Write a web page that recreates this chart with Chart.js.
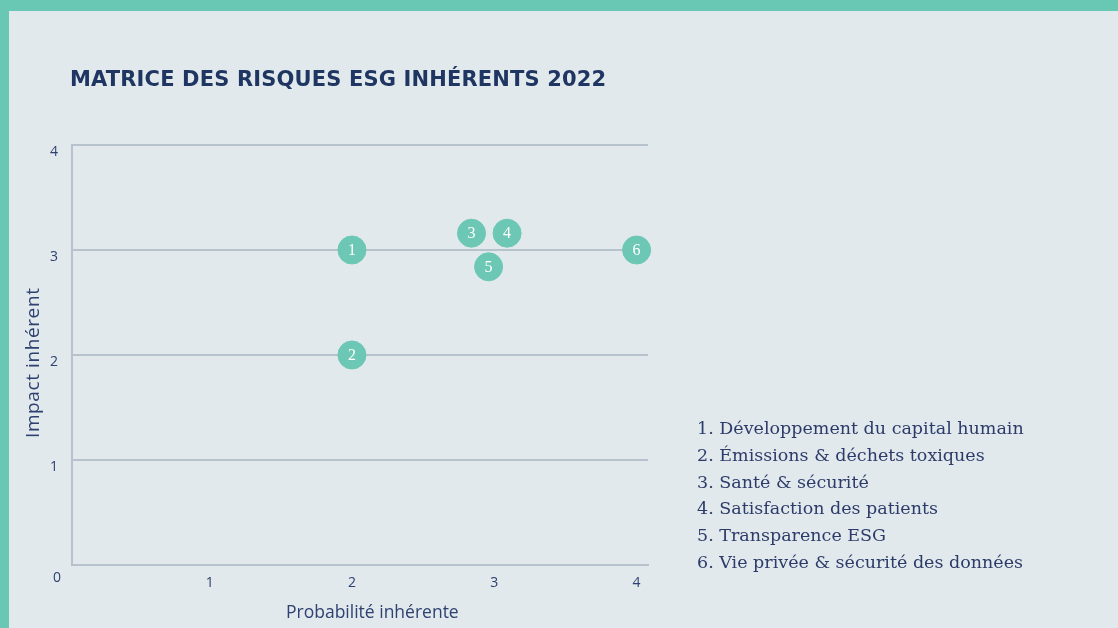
<!DOCTYPE html>
<html lang="fr">
<head>
<meta charset="utf-8">
<title>Matrice des risques ESG inhérents 2022</title>
<script src="https://cdn.jsdelivr.net/npm/chart.js@4"></script>
<style>
    html, body { margin: 0; padding: 0; }
    body {
        width: 1118px; height: 628px; overflow: hidden; position: relative;
        background: #e1e9ec;
        border-top: 11px solid #69c8b4;
        border-left: 9px solid #69c8b4;
        box-sizing: border-box;
    }
    #wrap { position: absolute; left: -9px; top: -11px; width: 1118px; height: 628px; }
    #title {
        position: absolute; left: 61px; top: 56px;
        font: 700 21px "DejaVu Sans", sans-serif; color: #1f3662;
        letter-spacing: 0.15px;
    }
    .axis { position: absolute; font: 400 17.5px "Open Sans", sans-serif; color: #2f4170; white-space: nowrap; }
    #xTitle { left: 277px; top: 588px; }
    #yTitle { left: -52px; top: 339px; transform: rotate(-90deg); transform-origin: center; width: 150px; text-align: center; font-size: 19px; letter-spacing: 0.6px; }
    #zero { position: absolute; left: 44px; top: 556px; font: 400 14px "Open Sans", sans-serif; color: #2f4170; }
    #legend {
        position: absolute; left: 688px; top: 404px; margin: 0; padding: 0; list-style: none;
        font: 17.5px "DejaVu Serif", serif; color: #2c3b69; line-height: 26.8px;
    }
</style>
</head>
<body>
<div id="wrap">
    <canvas id="matrix"></canvas>
</div>
<div id="title">MATRICE DES RISQUES ESG INHÉRENTS 2022</div>
<div class="axis" id="xTitle">Probabilité inhérente</div>
<div class="axis" id="yTitle">Impact inhérent</div>
<div id="zero">0</div>
<ul id="legend"></ul>

<script>
// risques (numéro, probabilité, impact)
const riskNames = [
    'Développement du capital humain',
    'Émissions & déchets toxiques',
    'Santé & sécurité',
    'Satisfaction des patients',
    'Transparence ESG',
    'Vie privée & sécurité des données'
];
const probabilite = [2, 2, 2.84, 3.09, 2.96, 4];
const impact = [3, 2, 3.16, 3.16, 2.84, 3];
const xTicks = [1, 2, 3, 4];
const yTicks = [1, 2, 3, 4];

const teal = '#6cc7b4';
const gridColor = '#b6c3cc';
const tickColor = '#2f4170';

// légende à droite
const legend = document.getElementById('legend');
riskNames.forEach((name, i) => {
    const li = document.createElement('li');
    li.textContent = `${i + 1}. ${name}`;
    legend.appendChild(li);
});

// numéros dans les bulles
const bubbleNumbers = {
    id: 'bubbleNumbers',
    afterDatasetsDraw(chart) {
        const ctx = chart.ctx;
        const meta = chart.getDatasetMeta(0);
        ctx.save();
        ctx.fillStyle = '#ffffff';
        ctx.font = '16px "Liberation Serif", serif';
        ctx.textAlign = 'center';
        ctx.textBaseline = 'middle';
        meta.data.forEach((pt, i) => {
            ctx.fillText(String(i + 1), pt.x, pt.y + 1);
        });
        ctx.restore();
    }
};

const points = probabilite.map((x, i) => ({ x, y: impact[i] }));

new Chart(document.getElementById('matrix'), {
    type: 'scatter',
    data: {
        datasets: [{
            data: points,
            backgroundColor: teal,
            borderColor: teal,
            pointRadius: 14,
            pointHoverRadius: 14,
            clip: false
        }]
    },
    options: {
        responsive: true,
        maintainAspectRatio: false,
        animation: false,
        events: [],
        layout: { padding: { left: 12, top: 145, right: 470, bottom: 8 } },
        plugins: { legend: { display: false }, tooltip: { enabled: false } },
        scales: {
            x: {
                type: 'linear',
                min: 0.033,
                max: 4.08,
                grid: { display: false },
                border: { display: true, color: gridColor, width: 2 },
                afterBuildTicks: s => { s.ticks = xTicks.map(v => ({ value: v })); },
                afterFit: s => { s.height = 55; },
                ticks: {
                    color: tickColor,
                    padding: 2,
                    maxRotation: 0,
                    font: { family: '"Open Sans", sans-serif', size: 14, weight: 400 }
                }
            },
            y: {
                type: 'linear',
                min: 0,
                max: 4,
                grid: { color: gridColor, lineWidth: 2, drawTicks: false },
                border: { display: true, color: gridColor, width: 2 },
                afterBuildTicks: s => { s.ticks = yTicks.map(v => ({ value: v })); },
                afterFit: s => { s.width = 60; },
                ticks: {
                    color: tickColor,
                    padding: 14,
                    labelOffset: 7,
                    font: { family: '"Open Sans", sans-serif', size: 14, weight: 400 }
                }
            }
        }
    },
    plugins: [bubbleNumbers]
});
</script>
</body>
</html>
